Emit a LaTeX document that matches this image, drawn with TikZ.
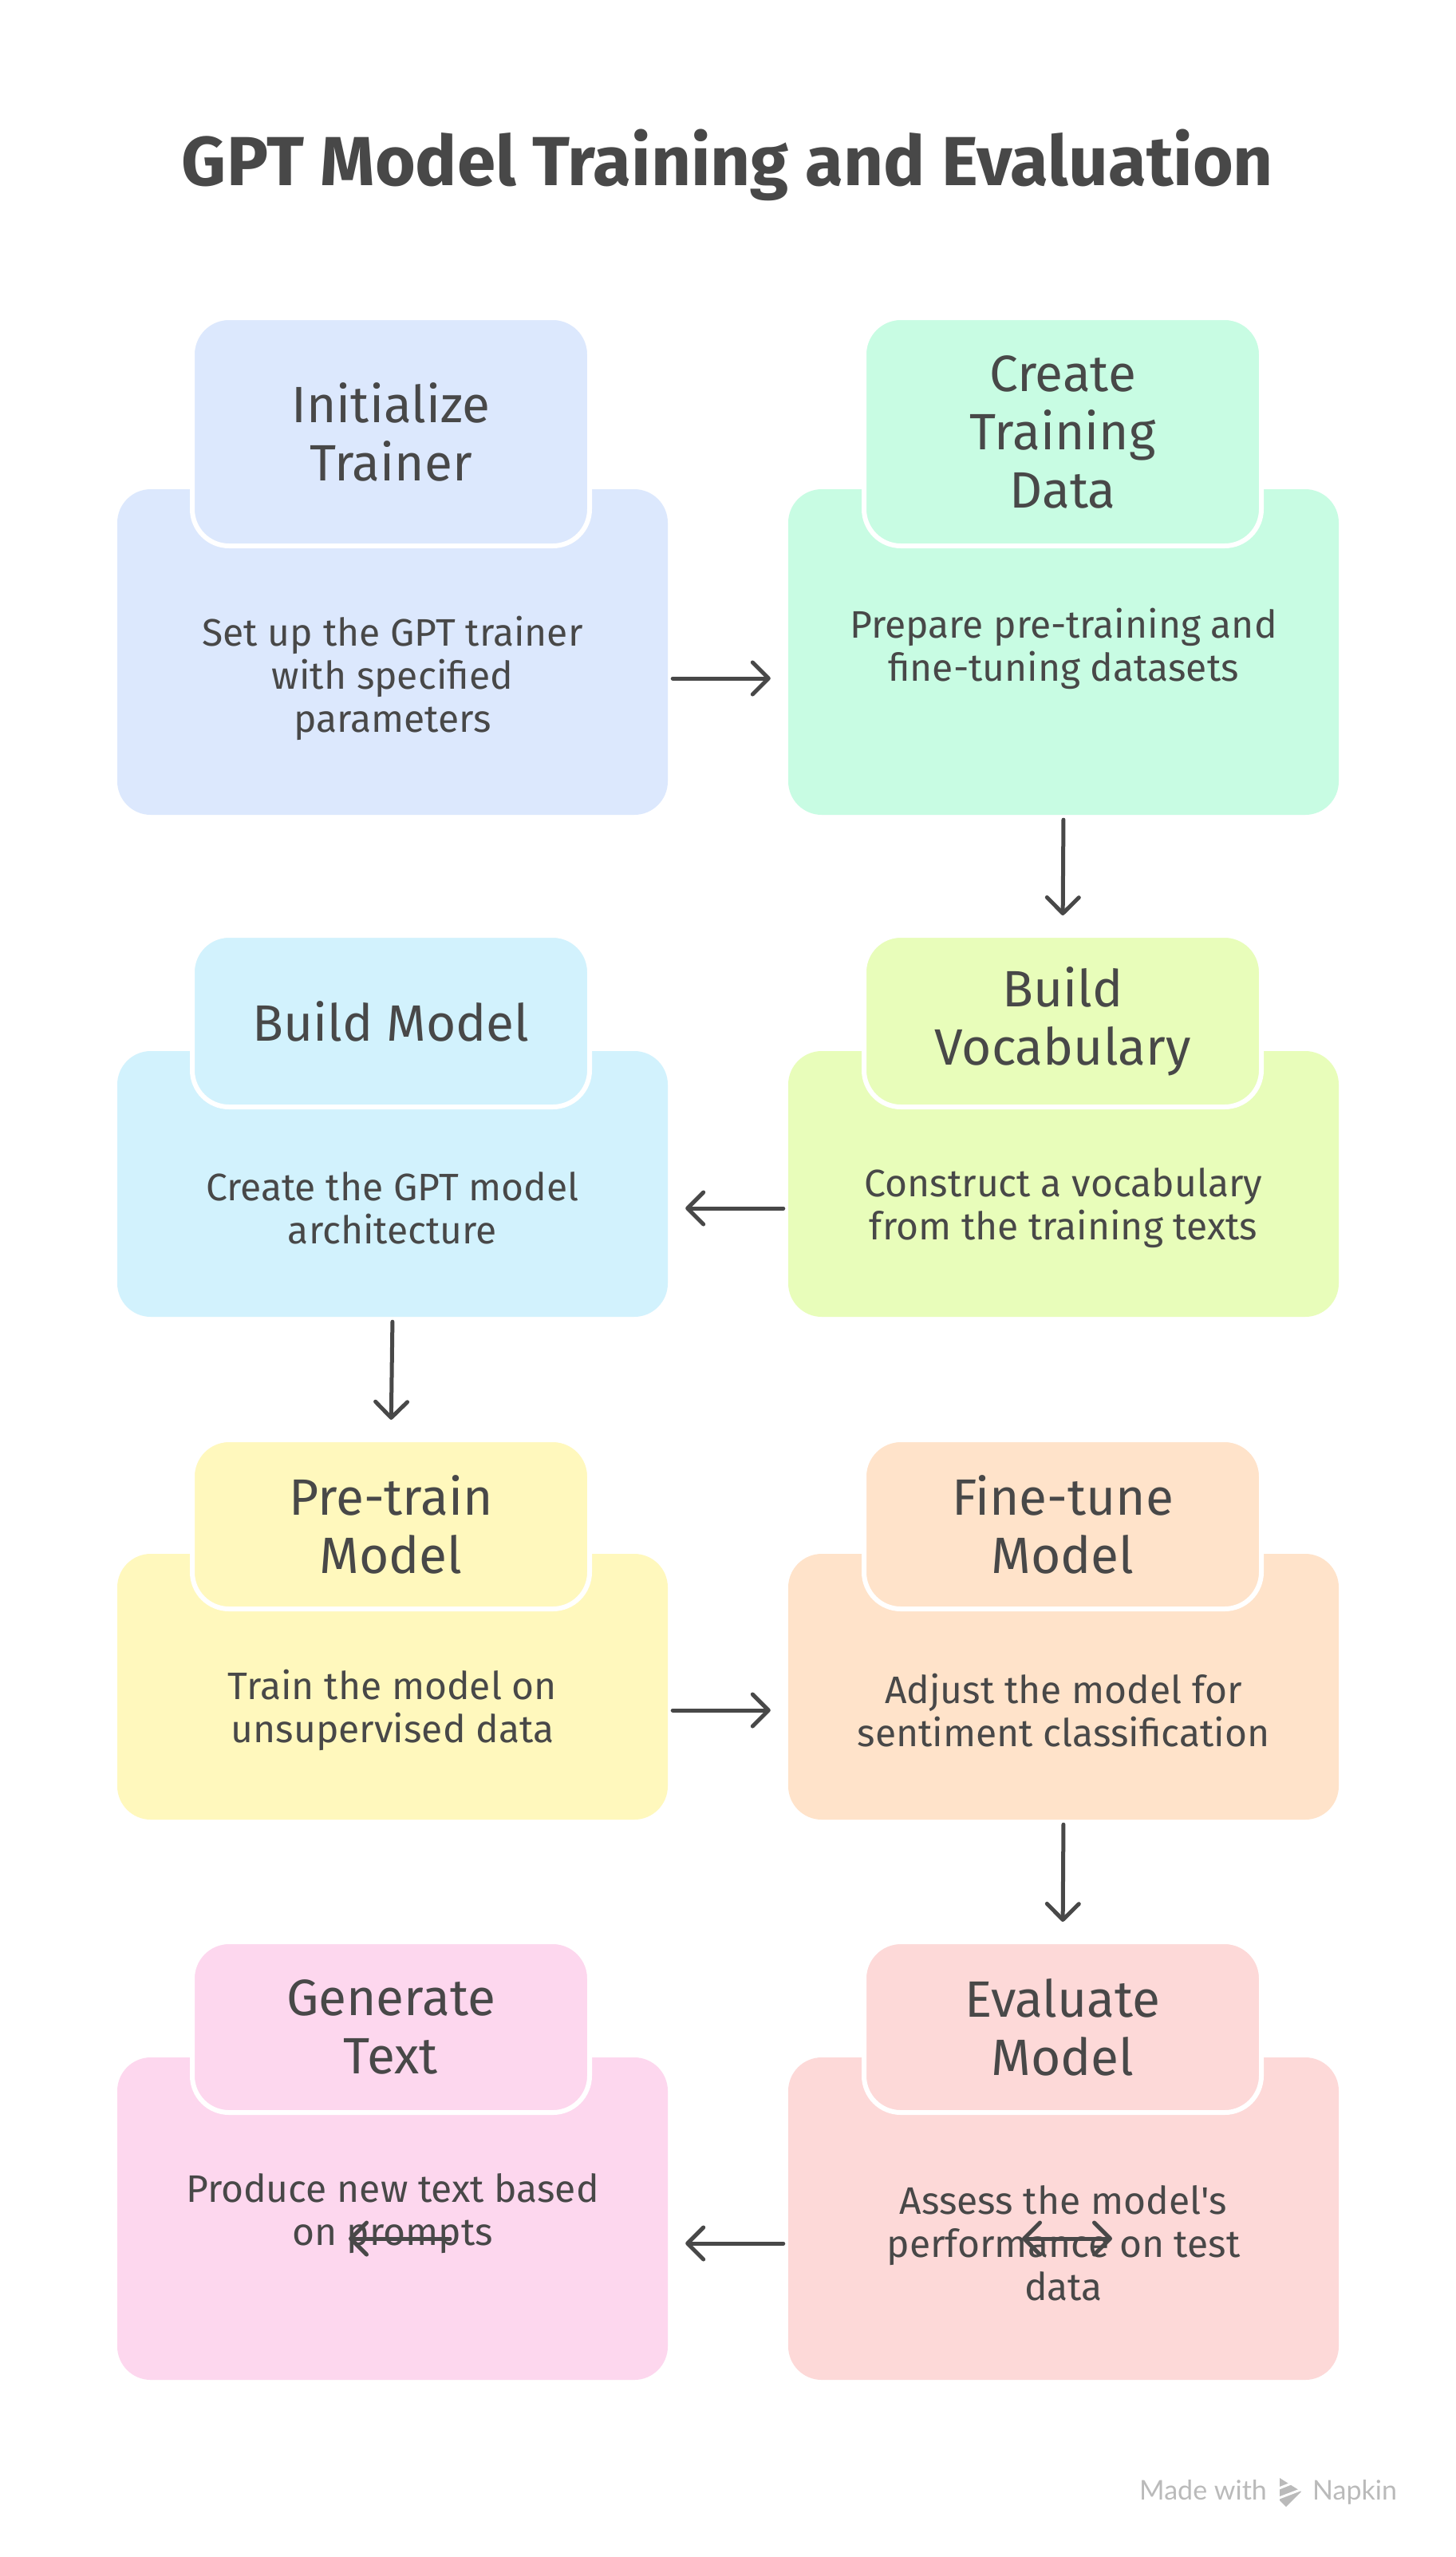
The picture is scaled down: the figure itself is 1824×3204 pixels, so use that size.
\documentclass[tikz,border=0pt]{standalone}
\usepackage{fontspec}
\setmainfont{Fira Sans}
\newfontfamily\napkinfont{Lato}
\usetikzlibrary{arrows.meta}
\definecolor{ink}{HTML}{484848}
\definecolor{cblue}{HTML}{DCE8FD}
\definecolor{cmint}{HTML}{C8FCE3}
\definecolor{ccyan}{HTML}{D2F2FD}
\definecolor{clime}{HTML}{E8FDBA}
\definecolor{cyellow}{HTML}{FFF8BD}
\definecolor{cpeach}{HTML}{FFE3CA}
\definecolor{cpink}{HTML}{FDD7EE}
\definecolor{crose}{HTML}{FDD9D8}
\definecolor{napgray}{HTML}{BABABA}
\begin{document}
\begin{tikzpicture}[x=1pt,y=-1pt,
  mainbox/.style={rounded corners=42pt, minimum width=690pt, inner sep=0pt, draw=none},
  headbox/.style={rounded corners=46pt, minimum width=498pt, inner sep=0pt, draw=white, line width=6pt, text=ink, font=\fontsize{64}{73}\selectfont, align=center},
  bodytext/.style={text=ink, font=\fontsize{48}{54}\selectfont, align=center, inner sep=0pt},
  flow/.style={draw=ink, line width=5pt, line cap=round, -{Straight Barb[length=20pt,width=40pt,round]}},
  flowtwo/.style={draw=ink, line width=5pt, line cap=round, {Straight Barb[length=20pt,width=40pt,round]}-{Straight Barb[length=20pt,width=40pt,round]}},
  gap/.style={shorten <=6pt, shorten >=22pt}
]
\useasboundingbox[fill=white] (0,0) rectangle (1824,3204);

% title
\node[text=ink, font=\fontsize{87}{100}\selectfont\bfseries, anchor=base] (title) at (912,232) {GPT Model Training and Evaluation};

% row 1
\node[mainbox, fill=cblue, minimum height=408pt] (m1) at (492,817) {};
\node[headbox, fill=cblue, minimum height=286pt] (h1) at (490,541) {Initialize\\Trainer};
\node[bodytext] (b1) at (492,850) {Set up the GPT trainer\\with specified\\parameters};

\node[mainbox, fill=cmint, minimum height=408pt] (m2) at (1333,817) {};
\node[headbox, fill=cmint, minimum height=286pt] (h2) at (1332,541) {Create\\Training\\Data};
\node[bodytext] (b2) at (1333,813) {Prepare pre-training and\\fine-tuning datasets};

% row 2
\node[mainbox, fill=ccyan, minimum height=333pt] (m3) at (492,1483.5) {};
\node[headbox, fill=ccyan, minimum height=215pt] (h3) at (490,1279.5) {Build Model};
\node[bodytext] (b3) at (492,1514) {Create the GPT model\\architecture};

\node[mainbox, fill=clime, minimum height=333pt] (m4) at (1333,1483.5) {};
\node[headbox, fill=clime, minimum height=215pt] (h4) at (1332,1279.5) {Build\\Vocabulary};
\node[bodytext] (b4) at (1333,1514) {Construct a vocabulary\\from the training texts};

% row 3
\node[mainbox, fill=cyellow, minimum height=333pt] (m5) at (492,2113.5) {};
\node[headbox, fill=cyellow, minimum height=212pt] (h5) at (490,1910) {Pre-train\\Model};
\node[bodytext] (b5) at (492,2143) {Train the model on\\unsupervised data};

\node[mainbox, fill=cpeach, minimum height=333pt] (m6) at (1333,2113.5) {};
\node[headbox, fill=cpeach, minimum height=212pt] (h6) at (1332,1910) {Fine-tune\\Model};
\node[bodytext] (b6) at (1333,2143) {Adjust the model for\\sentiment classification};

% row 4
\node[mainbox, fill=cpink, minimum height=404pt] (m7) at (492,2780) {};
\node[headbox, fill=cpink, minimum height=214pt] (h7) at (490,2540) {Generate\\Text};
\node[bodytext] (b7) at (492,2774) {Produce new text based\\on prompts};

\node[mainbox, fill=crose, minimum height=404pt] (m8) at (1333,2780) {};
\node[headbox, fill=crose, minimum height=214pt] (h8) at (1332,2540) {Evaluate\\Model};
\node[bodytext] (b8) at (1333,2811) {Assess the model\textquotesingle s\\performance on test\\data};

% connectors
\draw[flow, gap] (m1.east |- b1) -- (m2.west |- b1);
\draw[flow, gap] (m2.south) -- (h4.north);
\draw[flow, gap] (m4.west |- b3) -- (m3.east |- b3);
\draw[flow, gap] (m3.south) -- (h5.north);
\draw[flow, gap] (m5.east |- b5) -- (m6.west |- b5);
\draw[flow, gap] (m6.south) -- (h8.north);
\draw[flow, gap] (m8.west |- b8) -- (m7.east |- b8);

% stray arrows drawn over the texts
\coordinate (sa1) at (564,2805);
\coordinate (sa2) at (437,2805);
\draw[flow] (sa1) -- (sa2);
\coordinate (sb1) at (1281,2805);
\coordinate (sb2) at (1394,2805);
\draw[flowtwo] (sb1) -- (sb2);

% footer
\node[text=napgray, font=\napkinfont\fontsize{34}{40}\selectfont, anchor=base west, inner sep=0pt] (made) at (1428,3132) {Made with};
\node[text=napgray, font=\napkinfont\fontsize{34}{40}\selectfont, anchor=base west, inner sep=0pt] (napkin) at (1645,3132) {Napkin};
\fill[napgray] (1604,3105) -- (1631,3122) -- (1612,3141) -- (1604,3133) -- cycle;
\draw[white, line width=3pt] (1598,3120) -- (1628,3108);
\draw[white, line width=3pt] (1598,3132) -- (1632,3119);
\end{tikzpicture}
\end{document}
